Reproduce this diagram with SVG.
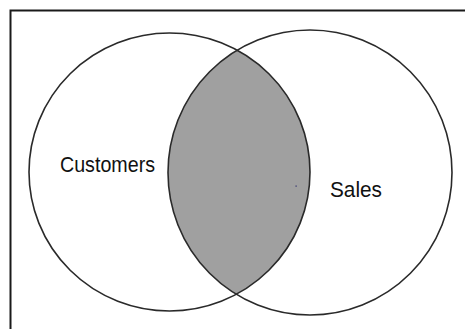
<svg xmlns="http://www.w3.org/2000/svg" width="465" height="329" viewBox="0 0 465 329">
  <style>
    .set { fill: none; stroke: #2a2a2a; stroke-width: 1.6; }
    .label { font-family: "Liberation Sans", Arial, sans-serif; font-size: 22px; fill: #111; }
    .frame { stroke: #1a1a1a; stroke-width: 2; fill: none; }
  </style>
  <defs>
    <clipPath id="clipLeft">
      <ellipse cx="169.5" cy="172" rx="140.5" ry="139"/>
    </clipPath>
  </defs>
  <rect width="465" height="329" fill="#ffffff"/>
  <path class="frame" d="M10.5,329 V10.5 H465"/>
  <g id="intersection">
    <ellipse cx="310" cy="172.5" rx="142" ry="142.5" fill="#a0a0a0" clip-path="url(#clipLeft)"/>
  </g>
  <g id="customers">
    <ellipse class="set" cx="169.5" cy="172" rx="140.5" ry="139"/>
    <text class="label" x="60" y="172" textLength="95" lengthAdjust="spacingAndGlyphs">Customers</text>
  </g>
  <g id="sales">
    <ellipse class="set" cx="310" cy="172.5" rx="142" ry="142.5"/>
    <text class="label" x="330" y="197" textLength="52" lengthAdjust="spacingAndGlyphs">Sales</text>
  </g>
  <rect x="295.5" y="185.5" width="1.2" height="1.2" fill="#2a2a6a"/>
</svg>
